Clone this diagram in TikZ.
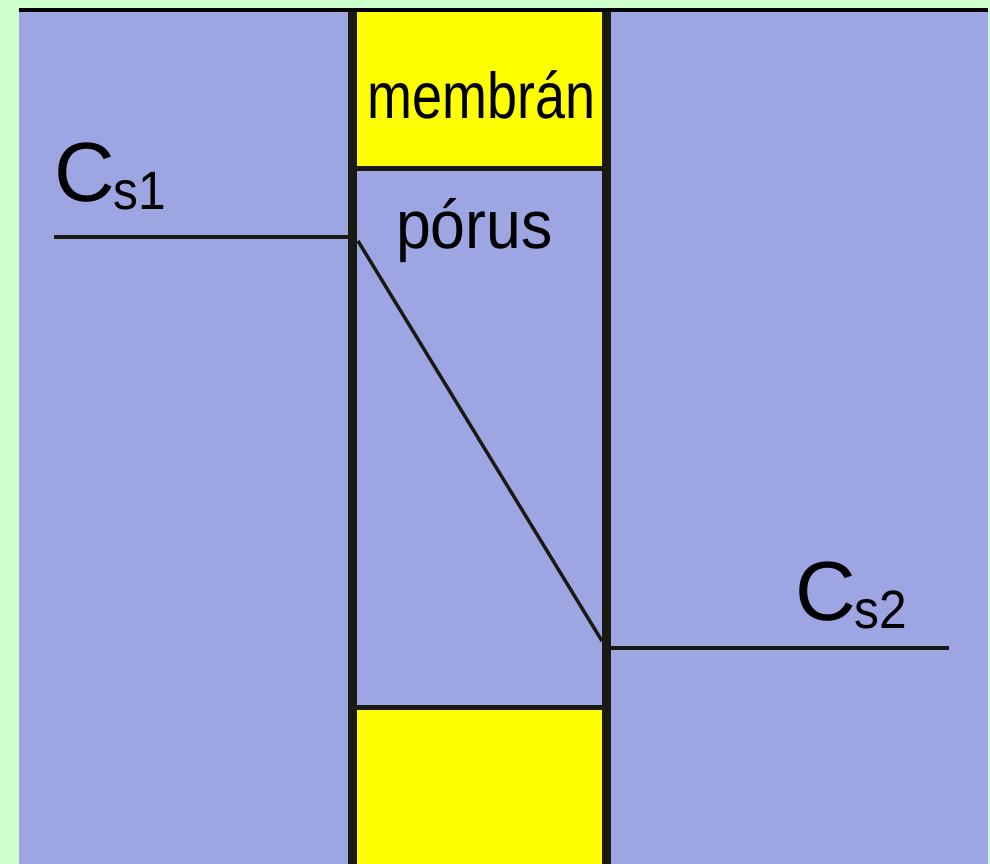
\documentclass[tikz,border=0pt]{standalone}
\usepackage{fontspec}
\setmainfont{Liberation Sans}
\definecolor{bgreen}{RGB}{204,255,204}
\definecolor{sol}{RGB}{157,166,226}
\definecolor{ink}{RGB}{26,25,18}
\definecolor{memb}{RGB}{255,255,0}
\begin{document}
\begin{tikzpicture}[x=1pt,y=-1pt,
  wall/.style={ink,line width=9pt},
  sep/.style={ink,line width=5pt},
  level/.style={ink,line width=4pt},
  grad/.style={ink,line width=3.4pt},
  lbl/.style={anchor=base west,inner sep=0pt,text=black},
  bigC/.style={lbl,font=\fontsize{84}{84}\selectfont},
  subs/.style={lbl,font=\fontsize{54}{54}\selectfont,xscale=0.92}]
\fill[bgreen] (0,0) rectangle (990,864);
\useasboundingbox (0,0) rectangle (990,864);
% solution
\fill[sol] (19,12) rectangle (988,864);
% membrane parts
\fill[memb] (352,12) rectangle (606,168.5);
\fill[memb] (352,707.5) rectangle (606,864);
% top line
\fill[black] (19,8) rectangle (988,12);
% walls
\coordinate (wl1) at (352.5,12);
\coordinate (wl2) at (352.5,864);
\coordinate (wr1) at (606.5,12);
\coordinate (wr2) at (606.5,864);
\draw[wall] (wl1) -- (wl2);
\draw[wall] (wr1) -- (wr2);
% separators
\coordinate (s1a) at (357,168.5);
\coordinate (s1b) at (602,168.5);
\coordinate (s2a) at (357,707.5);
\coordinate (s2b) at (602,707.5);
\draw[sep] (s1a) -- (s1b);
\draw[sep] (s2a) -- (s2b);
% concentration levels
\coordinate (c1a) at (54,237);
\coordinate (c1b) at (348,237);
\coordinate (c2a) at (611,648);
\coordinate (c2b) at (949,648);
\draw[level] (c1a) -- (c1b);
\draw[level] (c2a) -- (c2b);
% gradient in pore
\coordinate (g1) at (358,241);
\coordinate (g2) at (602,641);
\draw[grad] (g1) -- (g2);
% labels
\node[lbl,font=\fontsize{65}{65}\selectfont,xscale=0.83] (mem) at (367,119) {membrán};
\node[lbl,font=\fontsize{68}{68}\selectfont,xscale=0.92] (por) at (396,248) {pórus};
\node[bigC] (C1) at (54,201) {C};
\node[subs] (s1) at (113,209) {s1};
\node[bigC] (C2) at (795,620) {C};
\node[subs] (s2) at (854,628) {s2};
\end{tikzpicture}
\end{document}
